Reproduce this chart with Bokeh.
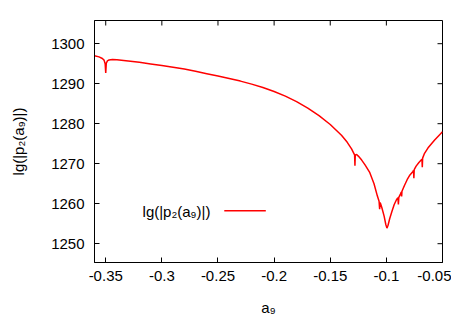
from bokeh.plotting import figure
from bokeh.models import Range1d, FixedTicker, Label, Arrow
from bokeh.embed import file_html
from bokeh.resources import INLINE

# ---- data ----
a9 = [-0.3600, -0.3560, -0.3530, -0.3515, -0.3505, -0.3500, -0.3495, -0.3485, -0.3470,
      -0.3440, -0.3400, -0.3300, -0.3200, -0.3100, -0.3000, -0.2900, -0.2800, -0.2700,
      -0.2600, -0.2500, -0.2400, -0.2300, -0.2200, -0.2100, -0.2000, -0.1900, -0.1800,
      -0.1700, -0.1600, -0.1500, -0.1400, -0.1350, -0.1310, -0.1290, -0.1283, -0.1280,
      -0.1277, -0.1265, -0.1250, -0.1220, -0.1190, -0.1150, -0.1110, -0.1080, -0.1065,
      -0.1060, -0.1055, -0.1040, -0.1020, -0.1005, -0.0995, -0.0985, -0.0970, -0.0950,
      -0.0930, -0.0910, -0.0897, -0.0893, -0.0889, -0.0875, -0.0867, -0.0864, -0.0861,
      -0.0840, -0.0815, -0.0790, -0.0765, -0.0758, -0.0755, -0.0752, -0.0735, -0.0710,
      -0.0690, -0.0683, -0.0680, -0.0677, -0.0660, -0.0630, -0.0600, -0.0570, -0.0540,
      -0.0500]
lg_p2 = [1297.0, 1296.7, 1296.3, 1295.9, 1295.0, 1292.7, 1295.1, 1295.7, 1295.95,
         1296.05, 1296.0, 1295.7, 1295.35, 1294.95, 1294.55, 1294.1, 1293.65, 1293.1,
         1292.5, 1291.9, 1291.3, 1290.65, 1289.9, 1289.05, 1288.05, 1286.9, 1285.5,
         1283.9, 1282.0, 1279.8, 1277.1, 1275.4, 1273.7, 1272.6, 1272.2, 1269.5,
         1272.2, 1272.3, 1271.9, 1270.9, 1269.7, 1267.9, 1265.0, 1261.9, 1260.6,
         1258.6, 1260.3, 1259.0, 1256.9, 1254.8, 1253.9, 1254.6, 1256.3, 1258.1,
         1259.8, 1261.0, 1261.5, 1259.8, 1261.6, 1262.4, 1262.9, 1261.8, 1263.1,
         1264.5, 1266.0, 1267.2, 1268.0, 1268.3, 1266.4, 1268.5, 1269.4, 1270.3,
         1270.9, 1271.1, 1269.1, 1271.4, 1272.6, 1273.9, 1274.9, 1275.9, 1276.8,
         1278.0]

x_ticks = [-0.35, -0.3, -0.25, -0.2, -0.15, -0.1, -0.05]
x_tick_labels = ["-0.35", "-0.3", "-0.25", "-0.2", "-0.15", "-0.1", "-0.05"]
y_ticks = [1250, 1260, 1270, 1280, 1290, 1300]
y_tick_labels = ["1250", "1260", "1270", "1280", "1290", "1300"]

series_name = "lg(|p\u2082(a\u2089)|)"
x_title = "a\u2089"
y_title = "lg(|p\u2082(a\u2089)|)"

# ---- layout / style ----
FONT = "Liberation Sans"
FS = "15px"
RED = "#ff0000"
X0, X1 = -0.36, -0.05
Y0, Y1 = 1245.3, 1305.8
FRAME_W, FRAME_H = 348, 242
TICK_PX = 5

p = figure(width=451, height=320, output_backend="svg", toolbar_location=None,
           x_range=Range1d(X0, X1), y_range=Range1d(Y0, Y1),
           min_border_left=94, min_border_right=9, min_border_top=20, min_border_bottom=58)
p.background_fill_color = "white"
p.border_fill_color = "white"
p.outline_line_color = "black"
p.outline_line_width = 1
p.xgrid.visible = False
p.ygrid.visible = False

p.line(a9, lg_p2, line_color=RED, line_width=1.5)

for ax in (p.xaxis[0], p.yaxis[0]):
    ax.major_tick_in = TICK_PX
    ax.major_tick_out = 0
    ax.minor_tick_line_color = None
    ax.axis_line_color = "black"
    ax.major_tick_line_color = "black"
    ax.major_label_text_font = FONT
    ax.major_label_text_font_size = FS
    ax.major_label_text_color = "black"
    ax.axis_label_text_font = FONT
    ax.axis_label_text_font_size = FS
    ax.axis_label_text_font_style = "normal"
    ax.axis_label_text_color = "black"

p.xaxis[0].ticker = FixedTicker(ticks=x_ticks)
p.xaxis[0].major_label_overrides = dict(zip(x_ticks, x_tick_labels))
p.xaxis[0].major_label_standoff = 8
p.xaxis[0].axis_label = x_title
p.xaxis[0].axis_label_standoff = 15

p.yaxis[0].ticker = FixedTicker(ticks=y_ticks)
p.yaxis[0].major_label_overrides = {t: s for t, s in zip(y_ticks, y_tick_labels)}
p.yaxis[0].major_label_standoff = 10
p.yaxis[0].axis_label = y_title
p.yaxis[0].axis_label_standoff = 21

# mirrored ticks on top and right borders (gnuplot style)
dx = TICK_PX * (X1 - X0) / FRAME_W
dy = TICK_PX * (Y1 - Y0) / FRAME_H
p.segment(x0=x_ticks, y0=[Y1] * len(x_ticks), x1=x_ticks, y1=[Y1 - dy] * len(x_ticks),
          line_color="black", line_width=1)
p.segment(x0=[X1] * len(y_ticks), y0=y_ticks, x1=[X1 - dx] * len(y_ticks), y1=y_ticks,
          line_color="black", line_width=1)

# key (text then sample line, gnuplot style)
key_text_x, key_y = -0.3172, 1257.95
key_line_x0, key_line_x1, key_line_y = -0.2444, -0.2074, 1258.25
p.add_layout(Label(x=key_text_x, y=key_y, text=series_name, text_font=FONT,
                   text_font_size=FS, text_baseline="middle", text_align="left",
                   text_color="black"))
p.add_layout(Arrow(x_start=key_line_x0, y_start=key_line_y, x_end=key_line_x1,
                   y_end=key_line_y, start=None, end=None, line_color=RED, line_width=1.5))

open("out.html", "w").write(file_html(p, INLINE))
